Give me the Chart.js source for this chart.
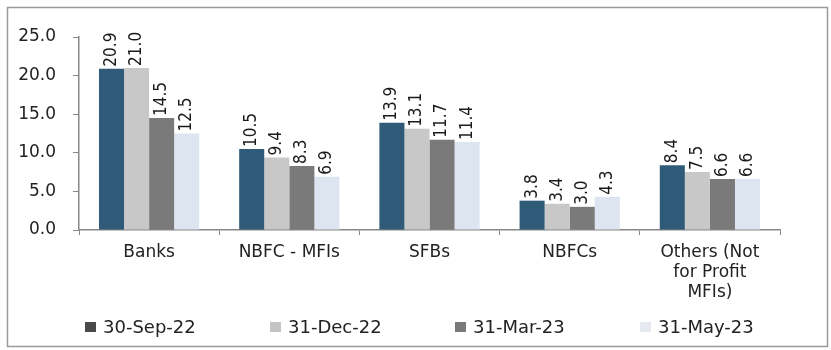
<!DOCTYPE html>
<html><head><meta charset="utf-8">
<script src="https://cdn.jsdelivr.net/npm/chart.js@4/dist/chart.umd.min.js"></script>
<style>html,body{margin:0;padding:0;background:#fff}#wrap{width:831px;height:350px;position:relative}</style>
</head><body><div id="wrap"><canvas id="c" width="831" height="350"></canvas></div>
<script>
const categories = ["Banks", "NBFC - MFIs", "SFBs", "NBFCs", ["Others (Not", "for Profit", "MFIs)"]];
const seriesNames = ["30-Sep-22", "31-Dec-22", "31-Mar-23", "31-May-23"];
const sep22 = [20.9, 10.5, 13.9, 3.8, 8.4];
const dec22 = [21.0, 9.4, 13.1, 3.4, 7.5];
const mar23 = [14.5, 8.3, 11.7, 3.0, 6.6];
const may23 = [12.5, 6.9, 11.4, 4.3, 6.6];
const yTicks = [0, 5, 10, 15, 20, 25];

const colors = ["#2f5b78", "#c8c8c8", "#7a7a7a", "#dde6f0"];
const legendColors = ["#4a4a4a", "#c4c4c4", "#7a7a7a", "#e6eaf0"];

const valueLabels = {
  id: 'valueLabels',
  afterDatasetsDraw(chart) {
    const ctx = chart.ctx;
    ctx.save();
    ctx.font = "17px 'Liberation Sans Narrow', 'DejaVu Sans Condensed', sans-serif";
    ctx.fillStyle = "#1a1a1a";
    ctx.textAlign = "left";
    ctx.textBaseline = "middle";
    chart.data.datasets.forEach((ds, i) => {
      const meta = chart.getDatasetMeta(i);
      meta.data.forEach((bar, j) => {
        ctx.save();
        ctx.translate(bar.x, bar.y - 2);
        ctx.rotate(-Math.PI / 2);
        ctx.fillText(ds.data[j].toFixed(1), 0, 0);
        ctx.restore();
      });
    });
    ctx.restore();
  }
};

const frameAndLegend = {
  id: 'frameAndLegend',
  afterDraw(chart) {
    const ctx = chart.ctx;
    ctx.save();
    ctx.strokeStyle = "#9a9a9a";
    ctx.lineWidth = 1.5;
    ctx.strokeRect(7.5, 7.5, 820, 339);
    ctx.font = "18px 'DejaVu Sans', sans-serif";
    ctx.textBaseline = "middle";
    ctx.textAlign = "left";
    chart.data.datasets.forEach((ds, i) => {
      const x0 = 85 + i * 185;
      ctx.fillStyle = legendColors[i];
      ctx.fillRect(x0, 322, 11, 10);
      ctx.fillStyle = "#222";
      ctx.fillText(ds.label, x0 + 18, 328);
    });
    ctx.restore();
  }
};

new Chart(document.getElementById('c'), {
  type: 'bar',
  data: {
    labels: categories,
    datasets: [sep22, dec22, mar23, may23].map((d, i) => ({
      label: seriesNames[i],
      data: d,
      backgroundColor: colors[i],
      borderWidth: 0,
      categoryPercentage: 0.715,
      barPercentage: 1.0
    }))
  },
  options: {
    responsive: false,
    animation: false,
    devicePixelRatio: 1,
    layout: { padding: { left: 0, top: 37, right: 51, bottom: 30 } },
    plugins: { legend: { display: false }, tooltip: { enabled: false } },
    scales: {
      x: {
        afterFit(s) { s.height = 90; },
        grid: { display: true, drawOnChartArea: false, tickLength: 5, color: "#888", offset: true },
        border: { display: true, color: "#888", width: 1.5 },
        ticks: { color: "#222", font: { family: "'DejaVu Sans', sans-serif", size: 17, lineHeight: 1.2 }, padding: 7, maxRotation: 0, autoSkip: false }
      },
      y: {
        min: 0, max: 25,
        afterFit(s) { s.width = 79; },
        afterBuildTicks(s) { s.ticks = yTicks.map(v => ({ value: v })); },
        grid: { display: true, drawOnChartArea: false, tickLength: 6, color: "#888" },
        border: { display: true, color: "#888", width: 1.5 },
        ticks: { color: "#222", font: { family: "'DejaVu Sans', sans-serif", size: 17 }, padding: 17, callback: v => Number(v).toFixed(1) }
      }
    }
  },
  plugins: [valueLabels, frameAndLegend]
});
</script></body></html>
